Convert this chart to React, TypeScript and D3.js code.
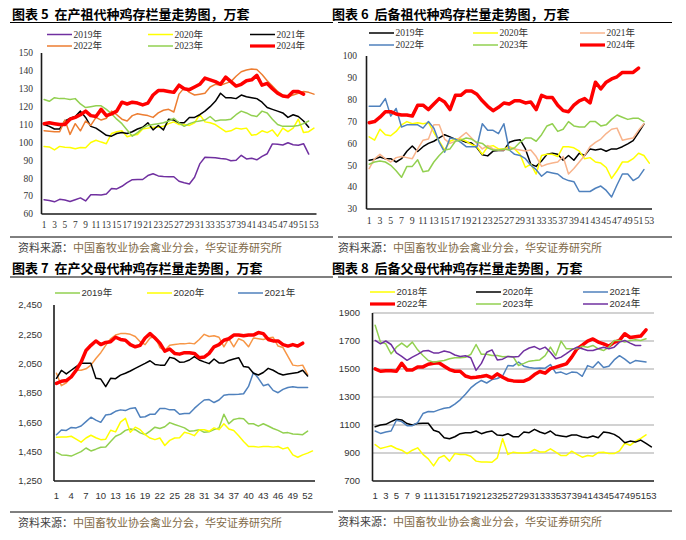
import React from 'react'
import * as d3 from 'd3'

const SERIF = '"Liberation Serif", "Times New Roman", "Noto Sans CJK SC", serif'
const SANS = '"Liberation Sans", Arial, "Noto Sans CJK SC", sans-serif'
const CJK = '"Noto Sans CJK SC", "Noto Sans", sans-serif'

// --- 图表5 在产祖代种鸡存栏量（万套），按周 ---
const p5_2019 = [68, 67.6, 66.8, 68.2, 67.8, 67, 68, 69, 67.3, 70.8, 70.8, 70.6, 71.2, 74.3, 74, 75.5, 77.5, 79.2, 79.3, 79.3, 81.5, 82.5, 81.3, 81, 80.8, 80.8, 78.3, 77.5, 76.8, 80.5, 88, 91.7, 91.6, 91.5, 91, 90.8, 89.8, 90, 92.8, 90.8, 91.2, 90.3, 92.2, 93.7, 99.2, 99, 98.6, 99.8, 98.7, 98.4, 99.3, 93.5]
const p5_2020 = [97.8, 97.5, 95.8, 97.8, 97.3, 97.2, 96.5, 97.2, 97, 100, 101.2, 100.2, 99.3, 105, 106, 106.5, 103.2, 104, 104.5, 107.5, 108, 108.5, 108.5, 109, 110.5, 111.5, 110, 110, 109.5, 111, 115.5, 111.5, 111, 110, 108, 106, 106.5, 108, 107.5, 108, 104, 104.5, 106.5, 105.5, 107, 103.5, 108, 106, 108, 113, 105.5, 106, 108]
const p5_2021 = [110, 109, 107.5, 107.5, 112, 113.5, 114.5, 117.5, 114, 109, 108, 106, 104, 103.5, 105, 105.5, 105, 106, 107.5, 108.5, 111, 107, 109.5, 107, 113, 112.5, 111, 111, 114, 114, 115.5, 117.5, 120, 123, 127.5, 125, 125, 124.5, 126.5, 125.5, 125, 124.5, 122.5, 119.5, 118.5, 117.5, 116.5, 114, 115.5, 114.5, 112, 108.5]
const p5_2022 = [106.5, 106.3, 106, 106, 112.5, 104.5, 110.5, 106.5, 112, 109.5, 114, 112.5, 113.5, 117.5, 115.5, 113, 112, 115, 116, 115.5, 115, 114, 116.5, 118, 118.5, 117, 127, 130.5, 128, 126.5, 127, 127.5, 131, 132.5, 132, 133, 134, 137, 139.5, 140.5, 141, 140.8, 138, 134.5, 131.5, 128.5, 126.5, 125.5, 126.5, 127.5, 128.5, 128, 127]
const p5_2023 = [124, 123, 125, 124.5, 124.5, 124, 124.5, 121.5, 119.5, 120, 120.5, 120.5, 118.5, 116, 113, 110.5, 107, 103.5, 105.5, 108, 109.5, 110, 110.5, 111, 112, 113.5, 111, 109, 110.5, 111.5, 112, 112.5, 114.5, 112, 112.5, 112.5, 113, 115.5, 117.5, 116.5, 115, 114.5, 117.5, 116.5, 113, 110, 109, 109, 109, 109.5, 110.5, 112]
const p5_2024 = [110.5, 111, 110.5, 110, 110, 113, 114, 115.5, 117.5, 115, 114.5, 118.5, 115, 116, 117.5, 122.5, 121.5, 122.5, 122, 121, 122, 126.5, 129, 129, 128.5, 128, 132, 130, 129.5, 131, 132.5, 136, 135, 134, 132.5, 136.5, 134, 131.5, 132.5, 134.5, 135, 137.5, 132, 133, 130, 127.5, 126, 125.5, 128.5, 128.5, 127]

// --- 图表6 后备祖代种鸡存栏量（万套） ---
const p6_2019 = [52.3, 52.8, 53.8, 53, 53, 51.5, 53, 56.4, 58.8, 56.3, 58.5, 60, 61, 62.5, 64, 63, 61.8, 61.5, 60.5, 60.2, 58, 54.8, 54.3, 56.5, 56.8, 56.8, 60.5, 61.3, 61.7, 57.5, 50.5, 49.5, 52, 55, 55.5, 55, 52.3, 54.5, 52.3, 55.5, 54.5, 57.5, 57, 57.5, 56.4, 57.5, 57.5, 58.5, 59.8, 61.3, 65, 68.8]
const p6_2020 = [63, 61.5, 66.5, 64, 63.5, 65.5, 68.5, 70, 69, 69.5, 69, 69.5, 65, 61, 57, 61, 62, 62, 61, 59.5, 58.5, 55, 58.5, 59, 57.5, 57.5, 58.5, 57.5, 55, 49, 50.5, 46, 54.5, 55, 55, 54, 58.5, 58.5, 58, 56.5, 53, 53.5, 51.5, 51, 49, 44, 47.5, 51.5, 51.5, 53, 55.5, 54.5, 51]
const p6_2021 = [48.5, 53, 55, 53, 51.5, 53.5, 54, 53.5, 53, 57.5, 61.5, 62, 68.5, 68.5, 62, 60, 61, 63, 65, 62.5, 60, 57.5, 59, 57.5, 57, 57, 58, 57.5, 57, 56.5, 57, 54, 49.5, 50.5, 51, 51.5, 54, 46, 48.5, 51.5, 54.5, 58.5, 60.5, 62, 64.5, 66.5, 67, 61.5, 62, 62.5, 66, 69]
const p6_2022 = [77, 77, 77, 80.5, 72.5, 76, 67.5, 68.5, 68.5, 68.5, 67, 70, 67, 60.5, 56, 62.5, 62, 60.5, 58.5, 58.5, 58.5, 69, 66, 66, 64.5, 69, 57, 55, 54.5, 53, 50, 48, 45, 47, 46.5, 46, 44, 43, 42.5, 38, 38, 38, 39.5, 40.5, 38.5, 35.5, 41, 46, 46, 43, 44.5, 48]
const p6_2023 = [50.5, 51.5, 52, 51.5, 50, 47.5, 44.5, 49.5, 49.5, 52.5, 47, 47.5, 51.5, 54.5, 57, 57.5, 61, 61.5, 62.5, 62, 60.5, 60, 58, 57, 57, 57.5, 57, 58, 60.5, 62.5, 62.5, 61, 64, 68, 69, 65.5, 66.5, 70, 68, 67.5, 67.5, 70, 70, 68, 68.5, 71, 73, 72, 71, 71.5, 71.5, 70]
const p6_2024 = [69.5, 70, 72, 74.5, 74.5, 73.5, 73, 73, 72.5, 77.5, 77.5, 75.5, 78, 80.5, 79, 75.5, 82, 82, 84, 84, 82.5, 79.5, 77, 75, 76.5, 78.5, 78, 79.5, 79.5, 78.5, 79, 75.5, 82, 81, 81, 77.5, 75, 74.5, 77.5, 79.5, 80.5, 78.5, 88, 85, 88, 89.5, 90.5, 92.5, 92.5, 92.5, 94.5]

// --- 图表7 在产父母代种鸡存栏量（万套） ---
const p7_2019 = [1445, 1428, 1425, 1420, 1435, 1450, 1475, 1455, 1467, 1480, 1482, 1520, 1555, 1570, 1595, 1605, 1600, 1578, 1566, 1590, 1617, 1608, 1620, 1648, 1635, 1624, 1612, 1590, 1592, 1600, 1582, 1585, 1600, 1612, 1705, 1640, 1670, 1677, 1675, 1640, 1640, 1624, 1640, 1625, 1608, 1595, 1578, 1580, 1570, 1568, 1566, 1590]
const p7_2020 = [1548, 1550, 1550, 1555, 1536, 1515, 1543, 1562, 1545, 1532, 1535, 1596, 1585, 1652, 1677, 1582, 1617, 1600, 1566, 1543, 1532, 1543, 1492, 1527, 1543, 1545, 1582, 1573, 1559, 1600, 1600, 1589, 1612, 1600, 1640, 1605, 1594, 1559, 1520, 1485, 1485, 1481, 1485, 1485, 1481, 1485, 1469, 1478, 1428, 1412, 1428, 1440, 1455]
const p7_2021 = [1565, 1598, 1595, 1615, 1612, 1625, 1655, 1685, 1665, 1650, 1700, 1705, 1725, 1735, 1730, 1745, 1750, 1685, 1688, 1705, 1705, 1745, 1745, 1735, 1735, 1705, 1710, 1710, 1745, 1775, 1802, 1805, 1785, 1802, 1835, 1840, 1840, 1842, 1845, 1895, 1990, 1950, 1900, 1910, 1868, 1852, 1875, 1888, 1893, 1888, 1888, 1888]
const p7_2022 = [1985, 1900, 1920, 1960, 2005, 2005, 2015, 2040, 2085, 2125, 2175, 2220, 2245, 2255, 2255, 2250, 2235, 2200, 2180, 2225, 2235, 2160, 2140, 2175, 2180, 2185, 2185, 2190, 2185, 2215, 2250, 2235, 2240, 2230, 2165, 2220, 2165, 2220, 2205, 2165, 2225, 2220, 2215, 2225, 2230, 2170, 2160, 2100, 2040, 2035, 2040, 1975]
const p7_2023 = [1950, 2005, 1980, 2005, 2030, 2052, 2052, 2052, 1950, 1945, 1893, 1950, 1948, 1972, 1985, 2000, 2018, 2035, 2052, 2070, 2045, 2040, 2040, 2093, 2085, 2060, 2062, 2075, 2098, 2075, 2062, 2050, 2082, 2055, 2055, 2072, 2082, 2091, 2030, 2025, 1985, 1973, 1990, 2018, 2005, 1985, 1973, 1980, 1985, 1990, 2005, 1966]
const p7_2024 = [1915, 1930, 1935, 1960, 2005, 2060, 2140, 2175, 2205, 2180, 2195, 2200, 2230, 2215, 2210, 2180, 2165, 2175, 2225, 2255, 2225, 2190, 2135, 2150, 2120, 2115, 2125, 2125, 2120, 2090, 2095, 2120, 2165, 2180, 2210, 2220, 2245, 2245, 2240, 2245, 2245, 2262, 2255, 2215, 2205, 2205, 2180, 2170, 2180, 2170, 2190]

// --- 图表8 后备父母代种鸡存栏量（万套） ---
const p8_2018 = [960, 932, 942, 952, 932, 920, 895, 920, 937, 890, 858, 808, 865, 882, 842, 896, 889, 889, 877, 842, 836, 836, 834, 865, 1002, 890, 906, 900, 900, 903, 925, 908, 908, 930, 906, 882, 882, 913, 890, 870, 882, 877, 903, 905, 896, 896, 915, 970, 955, 985, 1005, 1030]
const p8_2020 = [1088, 1100, 1105, 1124, 1141, 1136, 1110, 1100, 1110, 1112, 1112, 1062, 1050, 1009, 1002, 1016, 1038, 1045, 1045, 1057, 1038, 1050, 1057, 1028, 1025, 1038, 1016, 1016, 1050, 1045, 1069, 1050, 1038, 1057, 1028, 1022, 1016, 1028, 1028, 1014, 1009, 1021, 1009, 1050, 1045, 1033, 1009, 973, 985, 978, 992, 968, 944]
const p8_2021 = [1057, 1040, 1050, 1057, 1134, 1124, 1095, 1095, 1117, 1182, 1196, 1194, 1208, 1220, 1225, 1249, 1280, 1320, 1365, 1395, 1418, 1400, 1424, 1432, 1450, 1525, 1522, 1550, 1520, 1510, 1505, 1508, 1506, 1532, 1472, 1478, 1462, 1478, 1475, 1448, 1524, 1510, 1552, 1510, 1520, 1565, 1595, 1570, 1540, 1560, 1555, 1550]
const p8_2022 = [1501, 1484, 1487, 1487, 1484, 1541, 1492, 1492, 1515, 1515, 1534, 1541, 1545, 1520, 1496, 1484, 1484, 1450, 1438, 1441, 1446, 1453, 1436, 1465, 1441, 1422, 1415, 1413, 1413, 1430, 1460, 1482, 1470, 1503, 1513, 1525, 1537, 1585, 1644, 1670, 1699, 1715, 1692, 1680, 1663, 1690, 1705, 1752, 1725, 1730, 1735, 1780]
const p8_2023 = [1812, 1692, 1680, 1608, 1656, 1685, 1656, 1692, 1637, 1596, 1561, 1549, 1556, 1561, 1573, 1580, 1580, 1584, 1605, 1675, 1605, 1605, 1596, 1596, 1587, 1590, 1587, 1525, 1540, 1556, 1560, 1565, 1596, 1656, 1596, 1699, 1644, 1644, 1644, 1663, 1656, 1668, 1644, 1632, 1656, 1704, 1704, 1692, 1704, 1709, 1704, 1716]
const p8_2024 = [1704, 1680, 1700, 1675, 1615, 1590, 1562, 1585, 1605, 1628, 1632, 1615, 1615, 1628, 1620, 1600, 1590, 1595, 1580, 1490, 1540, 1620, 1637, 1565, 1570, 1590, 1585, 1590, 1630, 1650, 1660, 1640, 1656, 1620, 1573, 1585, 1610, 1637, 1656, 1645, 1632, 1632, 1644, 1656, 1644, 1656, 1692, 1704, 1685, 1668, 1668]

const ticksOdd = d3.range(1, 54, 2)
const ticksEvery3 = d3.range(1, 53, 3)

const SOURCE_HEAD = '资料来源：'
const SOURCE_BODY = '中国畜牧业协会禽业分会，华安证券研究所'

type Series = { name: string; values: number[]; color: string; width: number; legend?: boolean }

type PanelCfg = {
  title: string
  left: number
  right: number
  titleX: number
  titleY: number
  sourceY: number
  sourceX: number
  plot: { left: number; right: number; top: number; bottom: number }
  yDomain: [number, number]
  yTicks: number[]
  yFormat: (v: number) => string
  yLabelX: number
  yFont: number
  xTicks: number[]
  xLabelY: number
  xFont: number
  font: string
  grid: boolean
  legendCols: number[]
  legendRows: number[]
  legendFont: number
  series: Series[]
}

const thin = 1.5
const thick = 3.5

const panels: PanelCfg[] = [
  {
    title: '图表 5  在产祖代种鸡存栏量走势图，万套',
    left: 10, right: 333, titleX: 12, titleY: 18.5, sourceY: 237, sourceX: 18,
    plot: { left: 41.5, right: 316.5, top: 53, bottom: 214 },
    yDomain: [60, 150], yTicks: d3.range(60, 151, 10), yFormat: d3.format('d'), yLabelX: 33, yFont: 9.5,
    xTicks: ticksOdd, xLabelY: 227.5, xFont: 9.3, font: SERIF, grid: false,
    legendCols: [47, 148, 250], legendRows: [34.5, 46], legendFont: 9.5,
    series: [
      { name: '2019年', values: p5_2019, color: '#7030A0', width: thin },
      { name: '2020年', values: p5_2020, color: '#FFFF00', width: thin },
      { name: '2021年', values: p5_2021, color: '#000000', width: thin },
      { name: '2022年', values: p5_2022, color: '#ED7D31', width: thin },
      { name: '2023年', values: p5_2023, color: '#92D050', width: thin },
      { name: '2024年', values: p5_2024, color: '#FF0000', width: thick },
    ],
  },
  {
    title: '图表 6  后备祖代种鸡存栏量走势图，万套',
    left: 338, right: 672, titleX: 332, titleY: 18.5, sourceY: 237, sourceX: 338,
    plot: { left: 366.5, right: 652, top: 56, bottom: 209 },
    yDomain: [30, 100], yTicks: d3.range(30, 101, 10), yFormat: d3.format('d'), yLabelX: 357, yFont: 9.5,
    xTicks: ticksOdd, xLabelY: 224, xFont: 9.8, font: SERIF, grid: false,
    legendCols: [369, 473, 580], legendRows: [33, 45], legendFont: 9.5,
    series: [
      { name: '2019年', values: p6_2019, color: '#000000', width: thin },
      { name: '2020年', values: p6_2020, color: '#FFFF00', width: thin },
      { name: '2021年', values: p6_2021, color: '#F8B48C', width: thin },
      { name: '2022年', values: p6_2022, color: '#4F81BD', width: thin },
      { name: '2023年', values: p6_2023, color: '#92D050', width: thin },
      { name: '2024年', values: p6_2024, color: '#FF0000', width: thick },
    ],
  },
  {
    title: '图表 7  在产父母代种鸡存栏量走势图，万套',
    left: 10, right: 333, titleX: 12, titleY: 273, sourceY: 512, sourceX: 18,
    plot: { left: 54, right: 315, top: 305, bottom: 481 },
    yDomain: [1250, 2450], yTicks: d3.range(1250, 2451, 200), yFormat: d3.format(','), yLabelX: 42, yFont: 9.5,
    xTicks: ticksEvery3, xLabelY: 498.5, xFont: 9.5, font: SANS, grid: false,
    legendCols: [55, 147, 238], legendRows: [293], legendFont: 9.5,
    series: [
      { name: '2019年', values: p7_2019, color: '#92D050', width: thin },
      { name: '2020年', values: p7_2020, color: '#FFFF00', width: thin },
      { name: '2021年', values: p7_2021, color: '#4F81BD', width: thin },
      { name: '2022年', values: p7_2022, color: '#F79646', width: thin, legend: false },
      { name: '2023年', values: p7_2023, color: '#000000', width: thin, legend: false },
      { name: '2024年', values: p7_2024, color: '#FF0000', width: thick, legend: false },
    ],
  },
  {
    title: '图表 8  后备父母代种鸡存栏量走势图，万套',
    left: 338, right: 672, titleX: 332, titleY: 273, sourceY: 511, sourceX: 338,
    plot: { left: 372.5, right: 654, top: 313, bottom: 481 },
    yDomain: [700, 1900], yTicks: d3.range(700, 1901, 200), yFormat: d3.format('d'), yLabelX: 360, yFont: 9.5,
    xTicks: ticksOdd, xLabelY: 498.5, xFont: 9.5, font: SANS, grid: true,
    legendCols: [370, 476, 583], legendRows: [292, 304], legendFont: 9.5,
    series: [
      { name: '2018年', values: p8_2018, color: '#FFFF00', width: thin },
      { name: '2020年', values: p8_2020, color: '#000000', width: thin },
      { name: '2021年', values: p8_2021, color: '#4F81BD', width: thin },
      { name: '2022年', values: p8_2022, color: '#FF0000', width: thick },
      { name: '2023年', values: p8_2023, color: '#92D050', width: thin },
      { name: '2024年', values: p8_2024, color: '#7030A0', width: thin },
    ],
  },
]

function Panel({ cfg }: { cfg: PanelCfg }) {
  const { plot } = cfg
  // 53 weekly categories, points centred in each slot
  const x = d3.scaleLinear().domain([0.5, 53.5]).range([plot.left, plot.right])
  const y = d3.scaleLinear().domain(cfg.yDomain).range([plot.bottom, plot.top])
  const line = d3
    .line<number>()
    .x((_, i) => x(i + 1))
    .y((v) => y(v))

  const legendItems = cfg.series.filter((s) => s.legend !== false)

  return (
    <g>
      {/* title */}
      <text x={cfg.titleX} y={cfg.titleY} fontFamily={CJK} fontWeight={700} fontSize={13} fill="#000" style={{ whiteSpace: 'pre' }}>
        {cfg.title}
      </text>
      <line x1={cfg.left} x2={cfg.right} y1={cfg.titleY + 4} y2={cfg.titleY + 4} stroke="#000" strokeWidth={1.2} />

      {/* gridlines */}
      {cfg.grid &&
        cfg.yTicks
          .filter((t) => t !== cfg.yDomain[0])
          .map((t) => (
            <line key={t} x1={plot.left} x2={plot.right} y1={y(t)} y2={y(t)} stroke="#A6A6A6" strokeWidth={1.2} />
          ))}

      {/* y labels */}
      {cfg.yTicks.map((t) => (
        <text key={t} x={cfg.yLabelX} y={y(t) + 3.3} textAnchor="end" fontFamily={cfg.font} fontSize={cfg.yFont} fill="#333">
          {cfg.yFormat(t)}
        </text>
      ))}

      {/* x labels */}
      {cfg.xTicks.map((t) => (
        <text key={t} x={x(t)} y={cfg.xLabelY} textAnchor="middle" fontFamily={cfg.font} fontSize={cfg.xFont} fill="#333">
          {t}
        </text>
      ))}

      {/* series */}
      {cfg.series.map((s) => (
        <path
          key={s.name}
          d={line(s.values) || ''}
          fill="none"
          stroke={s.color}
          strokeWidth={s.width}
          strokeLinejoin="round"
          strokeLinecap="round"
        />
      ))}

      {/* axes */}
      <line x1={plot.left} x2={plot.left} y1={plot.top} y2={plot.bottom} stroke="#1a1a1a" strokeWidth={1.6} />
      <line x1={plot.left} x2={plot.right} y1={plot.bottom} y2={plot.bottom} stroke="#1a1a1a" strokeWidth={1.6} />

      {/* legend */}
      {legendItems.map((s, i) => {
        const lx = cfg.legendCols[i % 3]
        const ly = cfg.legendRows[Math.floor(i / 3)]
        return (
          <g key={s.name}>
            <line x1={lx} x2={lx + 25} y1={ly} y2={ly} stroke={s.color} strokeWidth={s.width === thick ? 3.2 : 1.5} />
            <text x={lx + 26.5} y={ly + 3.4} fontFamily={cfg.font} fontSize={cfg.legendFont} fill="#333">
              {s.name}
            </text>
          </g>
        )
      })}

      {/* source */}
      <line x1={cfg.left} x2={cfg.right} y1={cfg.sourceY} y2={cfg.sourceY} stroke="#000" strokeWidth={1} />
      <text x={cfg.sourceX} y={cfg.sourceY + 15} fontFamily={CJK} fontSize={11}>
        <tspan fill="#404040">{SOURCE_HEAD}</tspan>
        <tspan fill="#7F6A48">{SOURCE_BODY}</tspan>
      </text>
    </g>
  )
}

export default function App() {
  return (
    <svg
      width={686}
      height={540}
      viewBox="0 0 686 540"
      style={{ position: 'absolute', left: 0, top: 0, background: '#fff' }}
    >
      <rect width={686} height={540} fill="#fff" />
      {panels.map((p) => (
        <Panel key={p.title} cfg={p} />
      ))}
    </svg>
  )
}
